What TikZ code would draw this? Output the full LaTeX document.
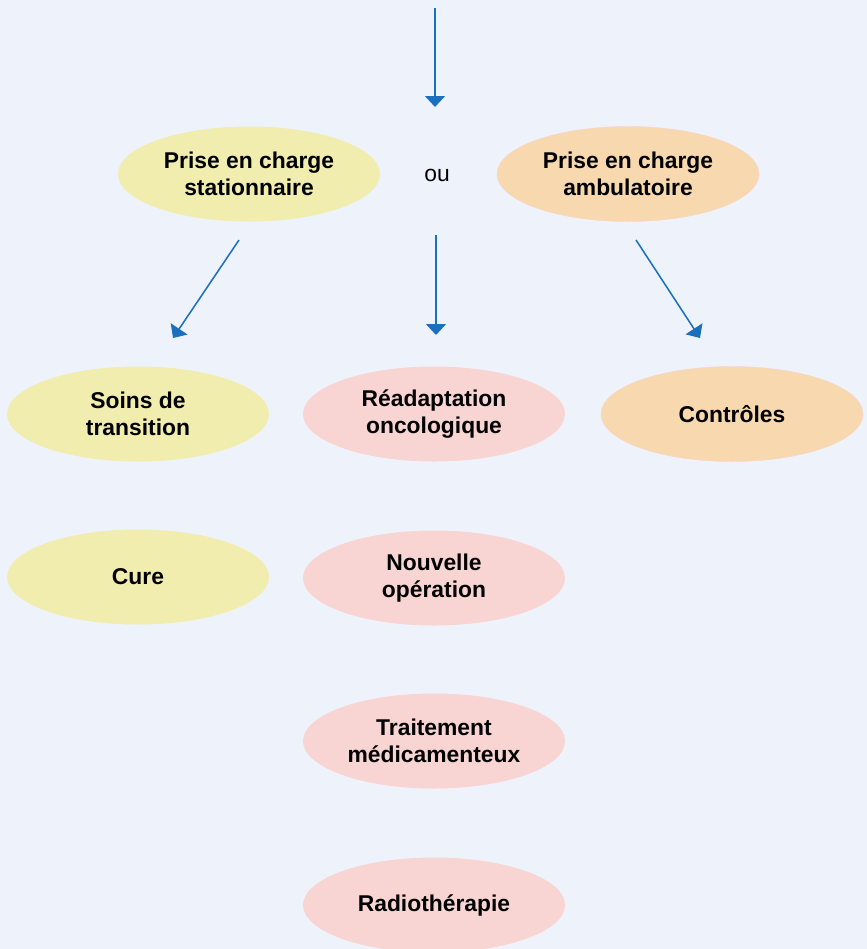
\documentclass[tikz,border=0pt]{standalone}
\usepackage{fontspec}
\setmainfont{Liberation Sans}
\usetikzlibrary{arrows.meta,shapes.geometric}
\definecolor{fondbleu}{HTML}{EEF3FB}
\definecolor{jaune}{HTML}{F0EDAE}
\definecolor{orangeclair}{HTML}{F8D8AE}
\definecolor{rose}{HTML}{F8D4D2}
\definecolor{fleche}{HTML}{1A70BE}

\begin{document}
\begin{tikzpicture}[x=0.03cm, y=-0.03cm,
    etat/.style={ellipse, minimum width=7.86cm, minimum height=2.85cm, inner sep=0pt,
      align=center, font=\fontsize{19.5}{22.5}\selectfont\bfseries},
    stat/.style={etat, fill=jaune},
    amb/.style={etat, fill=orangeclair, draw=rose!80!orangeclair, thin},
    onco/.style={etat, fill=rose},
    fl/.style={-{Triangle[width=0.6cm,length=0.33cm]}, draw=fleche, fill=fleche, line width=1.3pt}]
    \fill[fondbleu] (0,0) rectangle (867,949);
    \useasboundingbox (0,0) rectangle (867,949);
    \node [stat] (st) at (249,174) {Prise en charge\\stationnaire};
    \node [amb] (amb) at (628,174) {Prise en charge\\ambulatoire};
    \node [font=\fontsize{19.5}{22.5}\selectfont] (ou) at (437,175) {ou};
    \node [stat] (soins) at (138,414) {Soins de\\transition};
    \node [onco] (readapt) at (434,414) {Réadaptation\\oncologique};
    \node [amb] (ctrl) at (732,414) {Contrôles};
    \node [stat] (cure) at (138,577) {Cure};
    \node [onco] (nouv) at (434,578) {Nouvelle\\opération};
    \node [onco] (trait) at (434,741) {Traitement\\médicamenteux};
    \node [onco] (radio) at (434,905) {Radiothérapie};
    \coordinate (h0) at (435,8);   \coordinate (h1) at (435,107);
    \coordinate (g0) at (239,240); \coordinate (g1) at (173,338);
    \coordinate (m0) at (436,235); \coordinate (m1) at (436,335);
    \coordinate (d0) at (636,240); \coordinate (d1) at (700,338);
    \path
    (h0) edge [fl] (h1)
    (g0) edge [fl] (g1)
    (m0) edge [fl] (m1)
    (d0) edge [fl] (d1)
    ;
  \end{tikzpicture}
\end{document}
